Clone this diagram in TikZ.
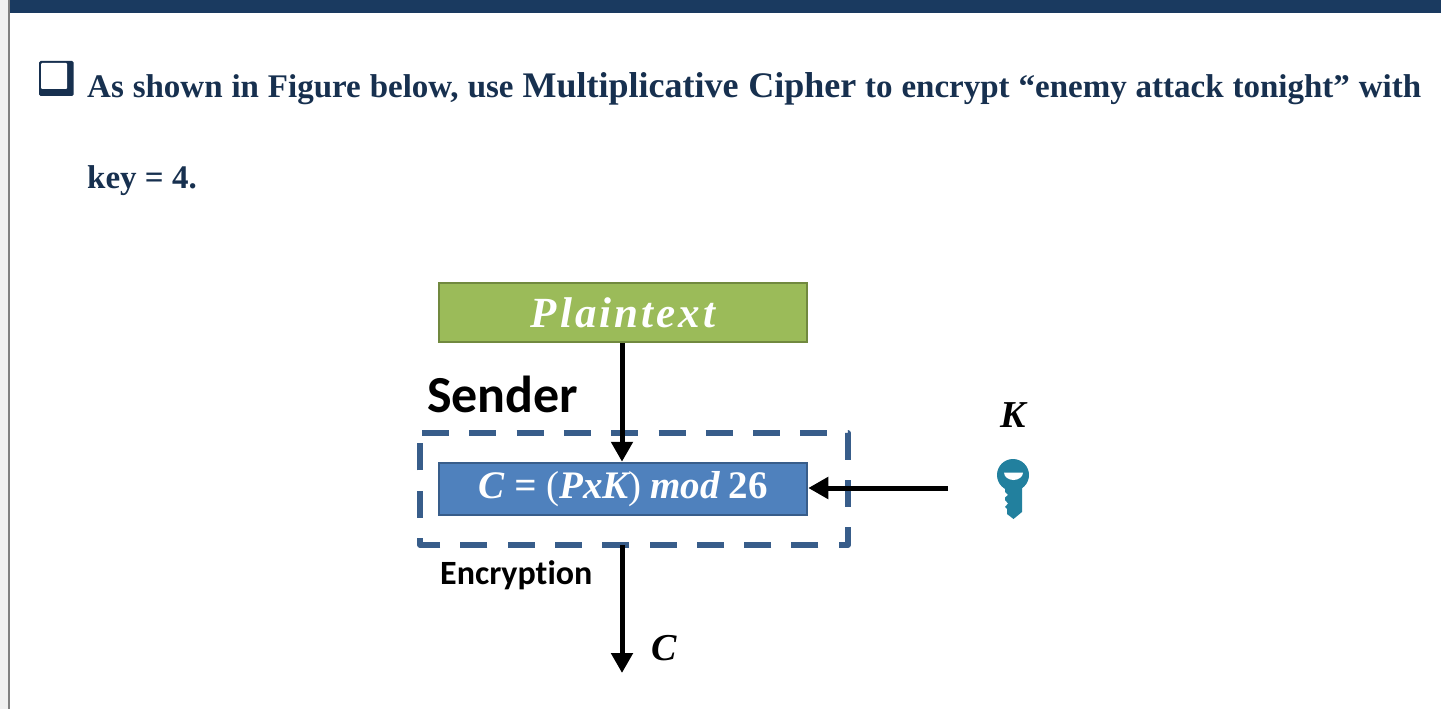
\documentclass[tikz,border=0pt]{standalone}
\usepackage{fontspec}
\setmainfont{Liberation Serif}
\newfontfamily\carl[Ligatures=NoCommon]{Carlito}
\usetikzlibrary{arrows.meta}
\definecolor{navy}{HTML}{17304F}
\definecolor{barblue}{HTML}{1A3A60}
\definecolor{grn}{HTML}{9BBB59}
\definecolor{grnd}{HTML}{71893F}
\definecolor{blu}{HTML}{4F81BD}
\definecolor{blud}{HTML}{385D8A}
\definecolor{keyc}{HTML}{22809E}
\tikzset{
  x=1pt,y=-1pt,
  body/.style={anchor=base west,inner sep=0pt,text=navy,font=\fontsize{33}{36}\selectfont\bfseries},
  diagbox/.style={draw,line width=2.5pt,minimum width=368pt,inner sep=0pt,text=white,font=\bfseries\itshape},
  flow/.style={line width=5pt,draw=black,-{Triangle[width=21pt,length=20pt]}},
  lab/.style={anchor=center,inner sep=0pt,font=\fontsize{38}{42}\selectfont\bfseries\itshape}
}
\begin{document}
\begin{tikzpicture}
\useasboundingbox (0,0) rectangle (1441,709);
\fill[white] (0,0) rectangle (1441,709);
% window edge and top bar
\fill[black!6] (0,0) rectangle (8,709);
\fill[black!50] (8,0) rectangle (9.5,709);
\fill[barblue] (9.5,0) rectangle (1441,13);
% checkbox bullet
\fill[navy,rounded corners=1.5pt] (39,61) rectangle (73.5,96);
\fill[white,rounded corners=1pt] (41,63) rectangle (67,89);
% text
\node[body] (line1) at (87,97) {\makebox[1334pt][s]{As shown in Figure below, use {\fontsize{36}{40}\selectfont Multiplicative Cipher} to encrypt “enemy attack tonight” with}};
\node[body] (line2) at (87,188) {key = 4.};
% boxes
\node[diagbox,draw=grnd,fill=grn,minimum height=59pt,font=\fontsize{43}{46}\selectfont\bfseries\itshape,text=white] (plain) at (623,312.5) {\addfontfeature{LetterSpace=7}Plaintext};
\node[diagbox,draw=blud,fill=blu,minimum height=52pt,font=\fontsize{39}{42}\selectfont\bfseries\itshape] (enc) at (623,489) {C\hspace{10pt}={\hspace{10pt}}{\normalfont(}PxK{\normalfont)}\hspace{9pt}mod\hspace{9pt}{\upshape 26}};
% dashed frame
\draw[blud,line width=5.5pt,dash pattern=on 27pt off 20.3pt,line join=round]
  (422,433) -- (848,433) -- (848,545) -- (420,545) -- (420,433);
\coordinate (frameS) at (622,545);
\coordinate (outC) at (622,673);
% labels
\node[anchor=base west,inner sep=0pt,font=\carl\bfseries\fontsize{52}{56}\selectfont] (sender) at (427,412) {Sender};
\node[anchor=base west,inner sep=0pt,font=\carl\bfseries\fontsize{34}{36}\selectfont] (encl) at (440,584) {Encryption};
\node[lab] (klab) at (1013,415) {K};
\node[lab] (clab) at (664,648) {C};
% key icon
\coordinate (key) at (1013,488);
\fill[keyc] (1013,475) circle (16);
\fill[keyc] (1005,485) -- (1022,485) -- (1022,512) -- (1013.5,519) -- (1007,514) -- (1007,509) -- (1005,507) -- (1008,503.5) -- (1005,500) -- (1005,497.5) -- (1008,495) -- (1005,492) -- cycle;
\fill[white] (1004,472.5) arc[start angle=180,end angle=0,x radius=9.5,y radius=7.5] -- cycle;
% connectors
\draw[flow] (plain.south -| frameS) -- (enc.north -| frameS);
\draw[flow] (frameS) -- (outC);
\draw[flow] (948,488) coordinate (keyS) -- (enc.east |- keyS);
\end{tikzpicture}
\end{document}
